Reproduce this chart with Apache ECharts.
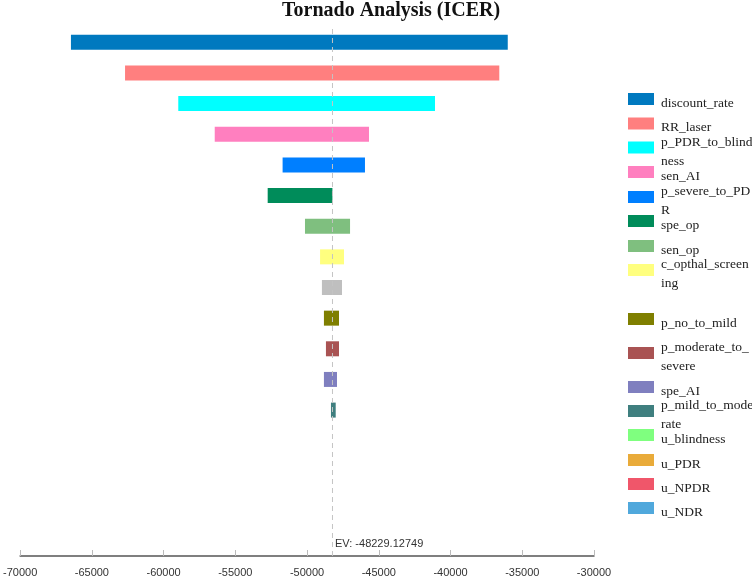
<!DOCTYPE html>
<html><head><meta charset="utf-8">
<script src="https://cdn.jsdelivr.net/npm/echarts@6/dist/echarts.min.js"></script>
<style>html,body{margin:0;padding:0;background:#fff}#c{width:752px;height:579px}</style>
</head><body><div id="c"></div>
<script>
// ---- data ----
const params = ['discount_rate','RR_laser','p_PDR_to_blindness','sen_AI','p_severe_to_PDR','spe_op','sen_op','c_opthal_screening','','p_no_to_mild','p_moderate_to_severe','spe_AI','p_mild_to_moderate','u_blindness','u_PDR','u_NPDR','u_NDR'];
const EV = -48229.12749;
const lows  = [-66450,-62680,-58970,-56430,-51700,-52740,-50140,-49090,-48960,-48820,-48680,-48820,-48330,EV,EV,EV,EV];
const highs = [-36010,-36600,-41080,-45680,-45960,EV,-47000,-47420,-47560,-47770,-47770,-47910,-48000,EV,EV,EV,EV];
const xMin = -70000, xMax = -30000, xStep = 5000;
const evLabel = 'EV: -48229.12749';
const titleText = 'Tornado Analysis (ICER)';

// ---- styles / layout ----
const colors = ['#0079BF','#FF7F7F','#00FFFF','#FF7FBF','#007FFF','#008C5A','#7FBF7F','#FFFF7F','#BFBFBF','#7F7F00','#A95353','#7F7FBF','#3F7F7F','#7FFF7F','#E9AB3A','#F0566A','#50A8DC'];
const legendCenters = [99,123.5,147.5,172,197,221,246,270,null,319,353,387,411,435,460,484,508];
const legendBreakAt = [0,0,14,0,14,0,0,15,0,0,14,0,14,0,0,0,0];

const chart = echarts.init(document.getElementById('c'));
const series = [{
  name: 'base', type: 'bar', stack: 'tor', data: highs, barWidth: 15,
  itemStyle: {color: 'transparent'}, silent: true, emphasis: {disabled: true},
  xAxisIndex: 0, yAxisIndex: 0
}];
params.forEach((p, i) => {
  series.push({
    name: p, type: 'bar', stack: 'tor', barWidth: 15,
    xAxisIndex: 0, yAxisIndex: 0,
    itemStyle: {color: colors[i]},
    data: params.map((_, j) => j === i ? lows[i] - highs[i] : '-')
  });
});
series.push({
  name: 'EVline', type: 'line', xAxisIndex: 1, yAxisIndex: 1, z: 10, silent: true,
  data: [[EV, 0], [EV, 1]], showSymbol: false, symbol: 'none',
  lineStyle: {color: '#c4c4c4', width: 1, type: [5, 4]},
  markPoint: {
    silent: true, symbol: 'circle', symbolSize: 1, itemStyle: {color: 'transparent'},
    data: [{coord: [EV, 0]}],
    label: {show: true, position: 'right', distance: 2, offset: [0, -12], formatter: evLabel,
            fontSize: 11, color: '#333', fontFamily: 'Liberation Sans'}
  }
});

const legends = [];
params.forEach((p, i) => {
  if (!legendCenters[i]) return;
  const b = legendBreakAt[i];
  const lines = b ? 2 : 1;
  legends.push({
    data: [{name: p, icon: 'rect'}], orient: 'vertical', left: 628,
    top: legendCenters[i] - (lines * 9.5 + 4), padding: 0,
    itemWidth: 26, itemHeight: 12, selectedMode: false,
    formatter: name => {
      const parts = b ? [name.slice(0, b), name.slice(b)] : [name];
      return '{s| }\n' + parts.map(t => '{t|' + t + '}').join('\n');
    },
    textStyle: {
      rich: {
        s: {fontSize: 1, lineHeight: 8, height: 8},
        t: {fontFamily: 'Liberation Serif', fontSize: 13.5, color: '#222', lineHeight: 19, padding: [0, 0, 0, 2]}
      }
    }
  });
});

chart.setOption({
  animation: false,
  title: {text: titleText, left: 282, top: 1, padding: 0,
          textStyle: {fontFamily: 'Liberation Serif', fontWeight: 'bold', fontSize: 20, color: '#111'}},
  grid: [
    {left: 20, right: 158, top: 27, height: 521},
    {left: 20, right: 158, top: 27, bottom: 23}
  ],
  xAxis: [
    {type: 'value', gridIndex: 0, min: xMin, max: xMax, interval: xStep, show: false},
    {type: 'value', gridIndex: 1, min: xMin, max: xMax, interval: xStep,
     axisLine: {show: true, lineStyle: {color: '#555', width: 1.5}},
     axisTick: {show: true, inside: true, length: 6, lineStyle: {color: '#bbb'}},
     splitLine: {show: false},
     axisLabel: {fontSize: 11, color: '#333', margin: 11, fontFamily: 'Liberation Sans',
                 formatter: v => String(v)}}
  ],
  yAxis: [
    {type: 'category', gridIndex: 0, data: params, inverse: true, show: false},
    {type: 'value', gridIndex: 1, min: 0, max: 1, show: false}
  ],
  legend: legends,
  series: series
});
</script></body></html>
